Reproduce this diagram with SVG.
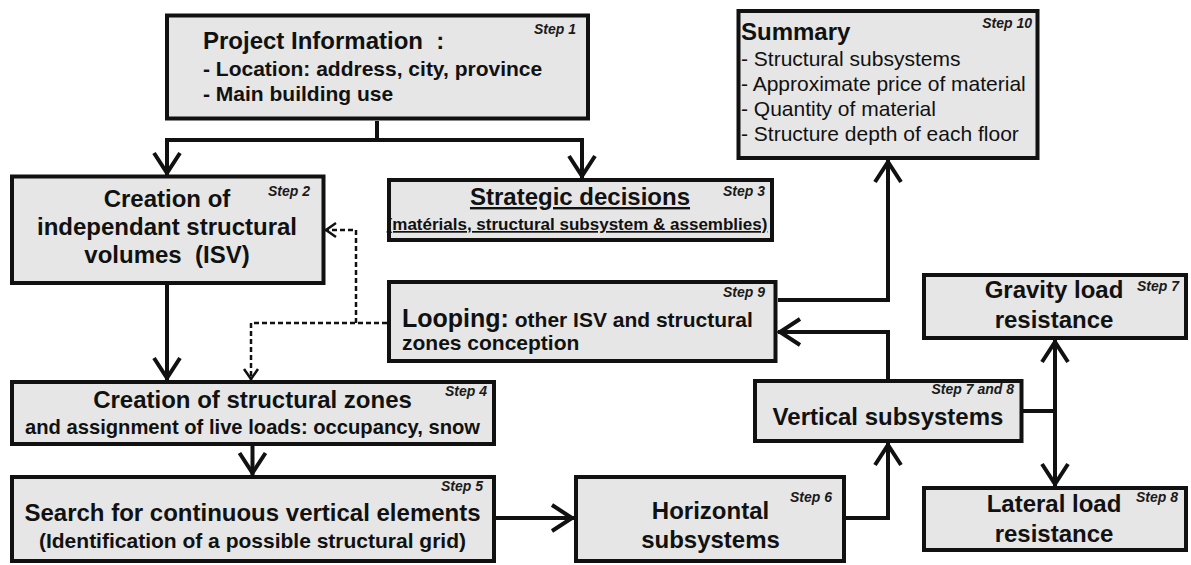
<svg xmlns="http://www.w3.org/2000/svg" width="1191" height="565" viewBox="0 0 1191 565">
<style>
.box{fill:#e6e6e6;stroke:#111;stroke-width:4}
.t{font-family:"Liberation Sans",Arial,sans-serif;fill:#111}
.h{font-size:24px;font-weight:bold}
.s{font-size:21px;font-weight:bold}
.r{font-size:21px;font-weight:normal}
.step{font-size:14px;font-weight:bold;font-style:italic;text-anchor:end;fill:#1a1a1a}
.c{text-anchor:middle}
.u{text-decoration:underline}
.line{fill:none;stroke:#111;stroke-width:4;stroke-linejoin:miter}
.dash{fill:none;stroke:#111;stroke-width:2.5;stroke-dasharray:5 3}
</style>
<defs>
<marker id="arr" viewBox="-26 -16 30 32" refX="0" refY="0" markerWidth="30" markerHeight="32" markerUnits="userSpaceOnUse" orient="auto">
<path d="M-22,-13 L-2,0 L-22,13" fill="none" stroke="#111" stroke-width="4"/>
</marker>
<marker id="arrd" viewBox="-14 -10 16 20" refX="0" refY="0" markerWidth="16" markerHeight="20" markerUnits="userSpaceOnUse" orient="auto">
<path d="M-11,-7 L-1,0 L-11,7" fill="none" stroke="#111" stroke-width="2.5"/>
</marker>
</defs>

<g id="connectors">
<path class="line" d="M377,121 V140 H167 V175" marker-end="url(#arr)"/>
<path class="line" d="M377,140 H582 V178" marker-end="url(#arr)"/>
<path class="line" d="M167,285 V380" marker-end="url(#arr)"/>
<path class="line" d="M252.5,446 V475" marker-end="url(#arr)"/>
<path class="line" d="M496,518 H574" marker-end="url(#arr)"/>
<path class="line" d="M846,518 H888 V443" marker-end="url(#arr)"/>
<path class="line" d="M888,379 V332 H778" marker-end="url(#arr)"/>
<path class="line" d="M778,300 H888 V160" marker-end="url(#arr)"/>
<path class="line" d="M1023,411 H1055"/>
<path class="line" d="M1055,411 V340" marker-end="url(#arr)"/>
<path class="line" d="M1055,411 V486" marker-end="url(#arr)"/>
<path class="dash" d="M387,323 H251 V380" marker-end="url(#arrd)"/>
<path class="dash" d="M356,323 V230 H325" marker-end="url(#arrd)"/>
</g>

<g id="step1">
<rect class="box" x="167" y="15.5" width="421" height="103"/>
<text class="t h" x="203" y="49" xml:space="preserve">Project Information  :</text>
<text class="t s" x="203" y="76">- Location: address, city, province</text>
<text class="t s" x="203" y="101">- Main building use</text>
<text class="t step" x="576" y="34">Step 1</text>
</g>

<g id="step2">
<rect class="box" x="12" y="176.5" width="311.5" height="106.5"/>
<text class="t h c" x="167" y="207">Creation of</text>
<text class="t h c" x="167" y="235">independant structural</text>
<text class="t h c" x="167" y="263" xml:space="preserve">volumes  (ISV)</text>
<text class="t step" x="310" y="196">Step 2</text>
</g>

<g id="step3">
<rect class="box" x="389" y="180" width="383" height="60"/>
<text class="t h c u" x="580" y="205">Strategic decisions</text>
<text class="t c u" x="577" y="230" style="font-size:17px;font-weight:bold">(matérials, structural subsystem &amp; assemblies)</text>
<text class="t step" x="765" y="196">Step 3</text>
</g>

<g id="step10">
<rect class="box" x="738.5" y="11" width="299" height="147"/>
<text class="t h" x="741" y="40">Summary</text>
<text class="t r" x="741" y="66">- Structural subsystems</text>
<text class="t r" x="741" y="91">- Approximate price of material</text>
<text class="t r" x="741" y="116">- Quantity of material</text>
<text class="t r" x="741" y="141">- Structure depth of each floor</text>
<text class="t step" x="1032" y="28">Step 10</text>
</g>

<g id="step9">
<rect class="box" x="389" y="282" width="386.5" height="79"/>
<text class="t s" x="402" y="327"><tspan style="font-size:25px">Looping:</tspan> other ISV and structural</text>
<text class="t s" x="402" y="350">zones conception</text>
<text class="t step" x="765" y="297">Step 9</text>
</g>

<g id="step4">
<rect class="box" x="12" y="382" width="482" height="62"/>
<text class="t h c" x="252.5" y="408">Creation of structural zones</text>
<text class="t c" x="252.5" y="434" style="font-size:20.2px;font-weight:bold">and assignment of live loads: occupancy, snow</text>
<text class="t step" x="487" y="396">Step 4</text>
</g>

<g id="step5">
<rect class="box" x="12" y="477" width="482" height="84"/>
<text class="t h c" x="252.5" y="521">Search for continuous vertical elements</text>
<text class="t s c" x="252.5" y="548">(Identification of a possible structural grid)</text>
<text class="t step" x="483" y="491">Step 5</text>
</g>

<g id="step6">
<rect class="box" x="576" y="477" width="268" height="84"/>
<text class="t h c" x="710.5" y="519">Horizontal</text>
<text class="t h c" x="710.5" y="548">subsystems</text>
<text class="t step" x="832" y="502">Step 6</text>
</g>

<g id="step7and8">
<rect class="box" x="755" y="381" width="266.5" height="60"/>
<text class="t h c" x="888" y="425">Vertical subsystems</text>
<text class="t step" x="1014" y="394">Step 7 and 8</text>
</g>

<g id="step7">
<rect class="box" x="924" y="275" width="262" height="63"/>
<text class="t h c" x="1054" y="298">Gravity load</text>
<text class="t h c" x="1054" y="328">resistance</text>
<text class="t step" x="1179" y="291">Step 7</text>
</g>

<g id="step8">
<rect class="box" x="924" y="488" width="262" height="62"/>
<text class="t h c" x="1054" y="512">Lateral load</text>
<text class="t h c" x="1054" y="542">resistance</text>
<text class="t step" x="1178" y="502">Step 8</text>
</g>
</svg>
